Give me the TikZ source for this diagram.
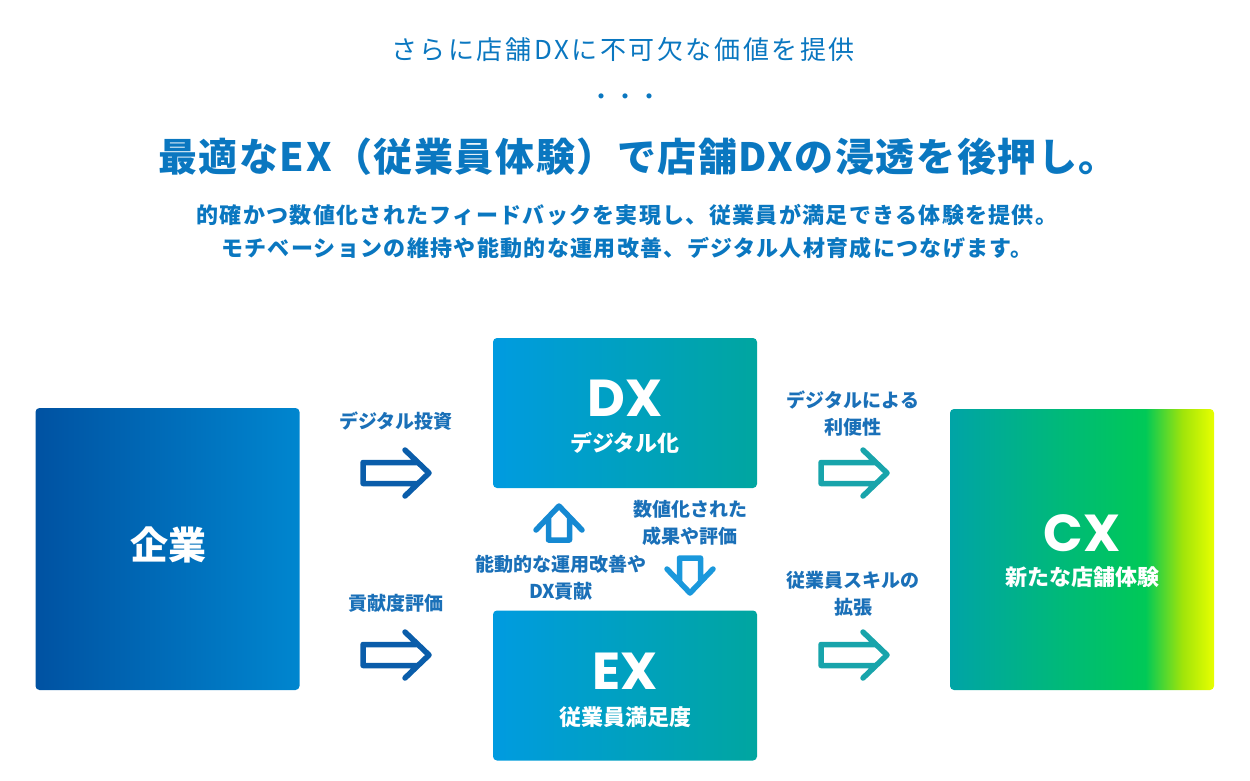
\documentclass[tikz,border=0pt]{standalone}
\usepackage{fontspec}
\setmainfont{Noto Sans CJK JP}
\newfontfamily\latinfont{Poppins}
\newfontfamily\widefont{Noto Sans CJK JP}[LetterSpace=10]
\newfontfamily\introfont{Noto Sans CJK JP}[LetterSpace=6]
\newfontfamily\headfont{Noto Sans CJK JP}[LetterSpace=4]

\definecolor{headblue}{HTML}{0A77C0}
\definecolor{labelblue}{HTML}{1A70B8}
\definecolor{corpA}{HTML}{0052A2}
\definecolor{corpB}{HTML}{0086CF}
\definecolor{dxA}{HTML}{009BE0}
\definecolor{dxB}{HTML}{00A6A0}
\definecolor{cxA}{HTML}{00A4A6}
\definecolor{cxB}{HTML}{00C957}
\definecolor{cxC}{HTML}{A0E40A}
\definecolor{cxD}{HTML}{E8FF00}
\definecolor{arrowdark}{HTML}{0A5DAA}
\definecolor{arrowteal}{HTML}{18A4AB}
\definecolor{arrowup}{HTML}{1589D2}
\definecolor{arrowdown}{HTML}{1A98DC}

\pgfdeclarehorizontalshading{cxshading}{100bp}{color(0bp)=(cxA); color(25bp)=(cxA); color(62bp)=(cxB); color(69bp)=(cxC); color(75bp)=(cxD); color(100bp)=(cxD)}

\tikzset{
  box/.style={rounded corners=4pt, minimum width=264pt, inner sep=0pt},
  boxtitle/.style={text=white, font=\latinfont\bfseries\fontsize{52}{52}\selectfont},
  boxname/.style={text=white, font=\bfseries\fontsize{22}{22}\selectfont},
  flowlabel/.style={text=labelblue, align=center, font=\bfseries\fontsize{19}{27}\selectfont},
  pics/hollow arrow/.style={code={
    \draw[line width=5.5pt, line cap=round, line join=round]
      (-24,23) -- (0,0) -- (-24,-23)
      (-11,10.5) -- (-#1,10.5) -- (-#1,-10.5) -- (-11,-10.5);
  }}
}

\begin{document}
\begin{tikzpicture}[x=1pt, y=-1pt]
	\useasboundingbox (0,0) rectangle (1250,780);
	% heading
	\node[text=headblue, font=\widefont\fontsize{26}{26}\selectfont] (lead) at (623,50) {さらに店舗DXに不可欠な価値を提供};
	\node[text=headblue, font=\fontsize{24}{24}\selectfont] (dots) at (625,100) {・・・};
	\node[text=headblue, font=\headfont\bfseries\fontsize{39}{39}\selectfont] (headline) at (638,157) {最適なEX（従業員体験）で店舗DXの浸透を後押し。};
	\node[text=headblue, align=center, font=\introfont\bfseries\fontsize{22}{33}\selectfont] (intro) at (627,231.5) {的確かつ数値化されたフィードバックを実現し、従業員が満足できる体験を提供。\\モチベーションの維持や能動的な運用改善、デジタル人材育成につなげます。};
	% boxes
	\node[box, minimum height=282pt, left color=corpA, right color=corpB] (kigyo) at (167.5,549) {};
	\node[box, minimum height=150pt, left color=dxA, right color=dxB] (dx) at (625,413) {};
	\node[box, minimum height=150pt, left color=dxA, right color=dxB] (ex) at (625,685.5) {};
	\node[box, minimum height=281pt, shading=cxshading] (cx) at (1082,549.5) {};
	\node[boxname, font=\bfseries\fontsize{38}{38}\selectfont] (kigyoname) at (168,545) {企業};
	\node[boxtitle] (dxtitle) at (625,398) {DX};
	\node[boxname] (dxname) at (625,443) {デジタル化};
	\node[boxtitle] (extitle) at (625,671) {EX};
	\node[boxname] (exname) at (625,717) {従業員満足度};
	\node[boxtitle] (cxtitle) at (1082,533) {CX};
	\node[boxname] (cxname) at (1082,577) {新たな店舗体験};
	% labels
	\node[flowlabel] (invest) at (396,421) {デジタル投資};
	\node[flowlabel] (rating) at (396,603) {貢献度評価};
	\node[flowlabel] (benefit) at (853,413.5) {デジタルによる\\利便性};
	\node[flowlabel] (skill) at (853,594) {従業員スキルの\\拡張};
	\node[flowlabel] (improve) at (561,577.5) {能動的な運用改善や\\DX貢献};
	\node[flowlabel] (result) at (690,522.5) {数値化された\\成果や評価};
	% arrows
	\pic[color=arrowdark] at (429,473) {hollow arrow=66};
	\pic[color=arrowdark] at (429,655) {hollow arrow=66};
	\pic[color=arrowteal] at (887,473) {hollow arrow=66};
	\pic[color=arrowteal] at (887,655) {hollow arrow=66};
	\pic[color=arrowup, rotate=90] at (559,506) {hollow arrow=34};
	\pic[color=arrowdown, rotate=-90] at (690,593) {hollow arrow=35};
\end{tikzpicture}
\end{document}
